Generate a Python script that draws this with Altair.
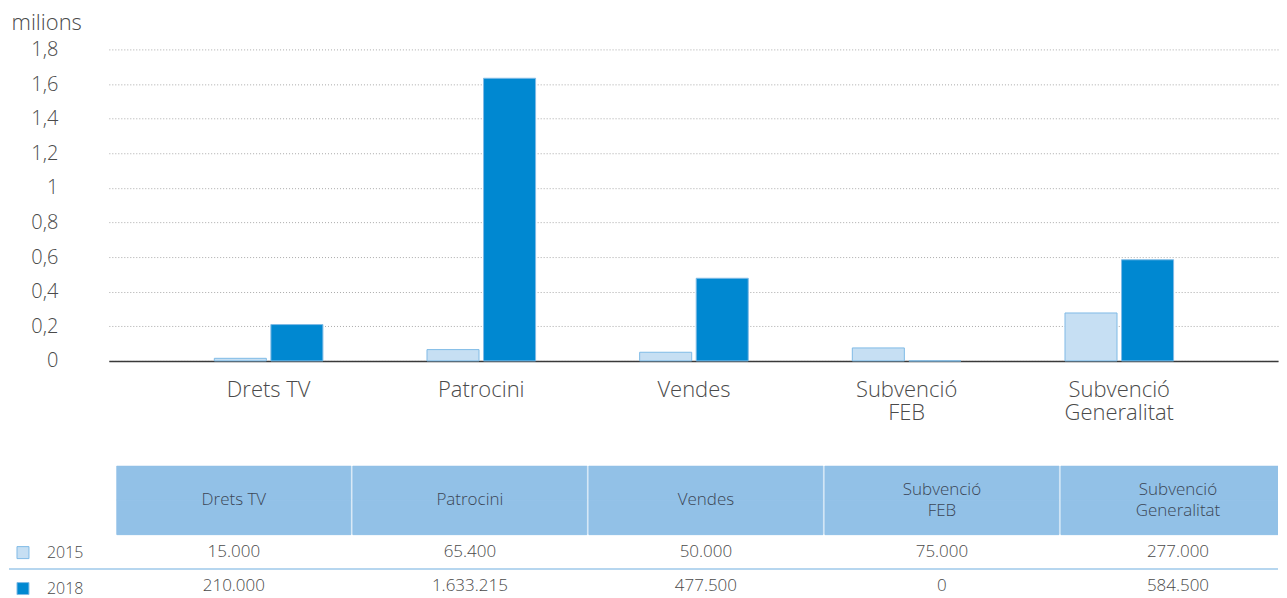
import altair as alt
import pandas as pd

categories = ["Drets TV", "Patrocini", "Vendes", "Subvenció FEB", "Subvenció Generalitat"]
header_labels = ["Drets TV", "Patrocini", "Vendes", "Subvenció\nFEB", "Subvenció\nGeneralitat"]
years = ["2015", "2018"]
values_2015 = [15000, 65400, 50000, 75000, 277000]
values_2018 = [210000, 1633215, 477500, 0, 584500]
y_ticks = [0, 0.2, 0.4, 0.6, 0.8, 1.0, 1.2, 1.4, 1.6, 1.8]
year_colors = ["#c6dff3", "#0088d1"]
header_rows = ["h_top", "h_bottom"]
table_rows = header_rows + years

FONT = "Open Sans"
TXT = "#4a4a4a"
W = 1171

rows = []
for i, c in enumerate(categories):
    for yr, vals in zip(years, [values_2015, values_2018]):
        v = vals[i]
        rows.append({
            "category": c,
            "year": yr,
            "value": v,
            "millions": v / 1e6,
            "label": f"{v:,}".replace(",", "."),
        })
df = pd.DataFrame(rows)

df_head = pd.DataFrame([
    {"category": c, "row": r}
    for c in categories for r in header_rows
])
df_head_text = pd.DataFrame({
    "category": categories,
    "header": header_labels,
    "nlines": [h.count("\n") + 1 for h in header_labels],
    "row": ["h_bottom"] * len(categories),
})
df_sep = pd.DataFrame({"row": ["2018"]})

# ---------------- bar chart ----------------
bars = alt.Chart(df).mark_bar(stroke="#7fbbe6", strokeWidth=1).encode(
    x=alt.X(
        "category:N", sort=categories,
        scale=alt.Scale(paddingInner=0, paddingOuter=0.2488, align=0.505),
        axis=alt.Axis(
            title=None, labelAngle=0, ticks=False, tickSize=0, grid=False,
            labelExpr="indexof(datum.label, 'Subvenció ') == 0 ? ['Subvenció', slice(datum.label, 10)] : datum.label",
            labelFont=FONT, labelFontSize=22, labelFontWeight=300, labelColor=TXT,
            labelPadding=19, labelLineHeight=23,
            domainColor="#3a3a3a", domainWidth=1.5,
        ),
    ),
    xOffset=alt.XOffset("year:N", sort=years, scale=alt.Scale(paddingInner=0.08, paddingOuter=0.92)),
    y=alt.Y(
        "millions:Q",
        scale=alt.Scale(domain=[0, 1.8], nice=False),
        axis=alt.Axis(
            values=y_ticks, title="milions", titleAngle=0, titleAlign="left", titleBaseline="middle",
            titleX=-98, titleY=-27, titleFont=FONT, titleFontSize=22, titleFontWeight=300, titleColor=TXT,
            labelExpr="replace(format(datum.value, '.1~f'), '.', ',')",
            labelFont=FONT, labelFontSize=20, labelFontWeight=300, labelColor=TXT, labelPadding=51,
            ticks=False, tickSize=0, domain=False,
            gridColor="#aaaaaa", gridDash=[1, 2], gridWidth=1,
        ),
    ),
    color=alt.Color("year:N", sort=years, scale=alt.Scale(domain=years, range=year_colors), legend=None),
).properties(width=W, height=312)

# ---------------- table ----------------
xs_table = alt.Scale(domain=categories, range=[8, 1188], paddingInner=0.0085, paddingOuter=0)
ys_table = alt.Scale(domain=table_rows, paddingInner=0, paddingOuter=0)
x_t = alt.X("category:N", sort=categories, scale=xs_table, axis=None)
y_t = alt.Y("row:N", sort=table_rows, scale=ys_table, axis=None)
y_edge = alt.Y("row:N", sort=table_rows, scale=ys_table, axis=None, bandPosition=0)

head_rect = alt.Chart(df_head).mark_rect(
    color="#92c1e7", stroke="#92c1e7", strokeWidth=1, clip=True
).encode(x=x_t, y=y_t)

head_text_1 = alt.Chart(df_head_text).transform_filter("datum.nlines == 1").mark_text(
    font=FONT, fontSize=17, fontWeight=300, color="#3b4656"
).encode(x=x_t, y=y_edge, text="header:N")

head_text_2 = alt.Chart(df_head_text).transform_filter("datum.nlines == 2").mark_text(
    font=FONT, fontSize=17, fontWeight=300, color="#3b4656", lineBreak="\n", lineHeight=21, dy=-10.5
).encode(x=x_t, y=y_edge, text="header:N")

vals_text = alt.Chart(df).mark_text(font=FONT, fontSize=17, fontWeight=300, color=TXT).encode(
    x=x_t, y=alt.Y("year:N", sort=table_rows, scale=ys_table, axis=None), text="label:N"
)

sep = alt.Chart(df_sep).mark_rule(color="#9ec8ea", strokeWidth=1.5).encode(
    x=alt.value(-100), x2=alt.value(W), y=y_edge,
)

legend_pts = alt.Chart(df).mark_point(shape="square", filled=True, opacity=0).encode(
    x=x_t,
    y=alt.Y("year:N", sort=table_rows, scale=ys_table, axis=None),
    color=alt.Color(
        "year:N", sort=years, scale=alt.Scale(domain=years, range=year_colors),
        legend=alt.Legend(
            title=None, orient="none", legendX=-94, legendY=79, padding=0,
            symbolType="square", symbolSize=144, symbolOpacity=1,
            symbolStrokeColor="#7fbbe6", symbolStrokeWidth=1,
            labelFont=FONT, labelFontSize=16, labelFontWeight=300, labelColor=TXT,
            labelOffset=16, rowPadding=20,
        ),
    ),
)

table = alt.layer(head_rect, head_text_1, head_text_2, sep, vals_text, legend_pts).properties(width=W, height=138)

chart = alt.vconcat(bars, table, spacing=42).resolve_scale(
    color="independent", x="independent", y="independent", xOffset="independent"
).resolve_legend(color="independent").properties(
    padding={"left": 0, "top": 3, "right": 0, "bottom": 0}
).configure(font=FONT).configure_view(stroke=None, strokeWidth=0)

chart.save("out.html", embed_options={"renderer": "svg", "actions": False})
